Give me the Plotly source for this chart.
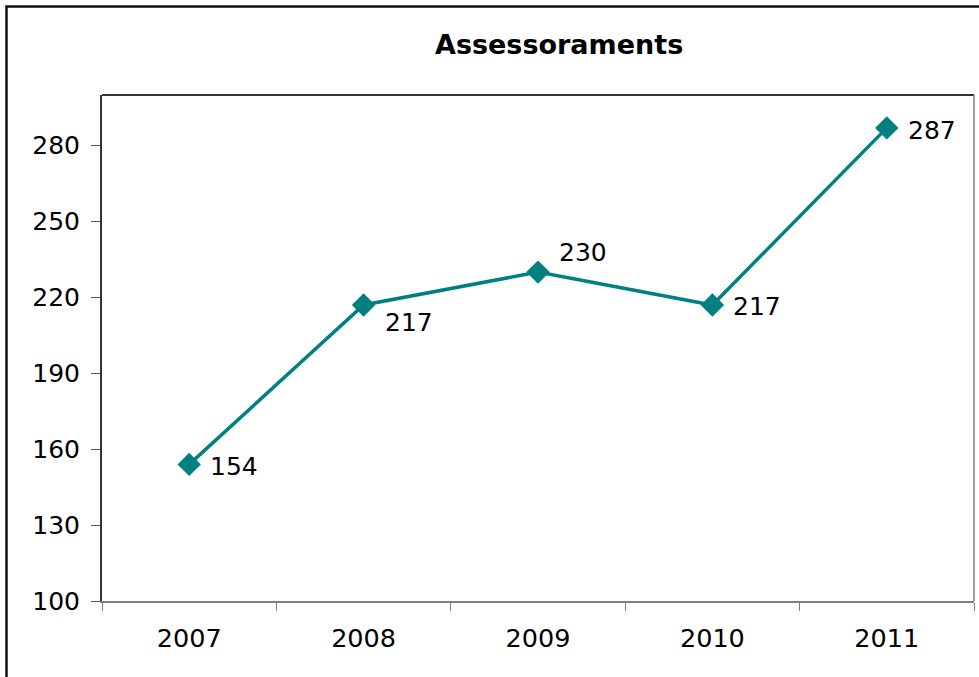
import plotly.graph_objects as go

years = ["2007", "2008", "2009", "2010", "2011"]
values = [154, 217, 230, 217, 287]
label_dy = [-2, -18, 20, -2, -3]

teal = "#008080"
font = "DejaVu Sans, Verdana, sans-serif"

fig = go.Figure()
fig.add_trace(go.Scatter(
    x=years, y=values, mode="lines+markers",
    line=dict(color=teal, width=3.5),
    marker=dict(symbol="diamond", size=18, color=teal),
    hoverinfo="skip",
))

for i, (v, dy) in enumerate(zip(values, label_dy)):
    fig.add_annotation(x=i, y=v, xref="x", yref="y", text=str(v), showarrow=False,
                       xanchor="left", yanchor="middle", xshift=19, yshift=dy,
                       font=dict(family=font, size=25, color="#000"))

fig.add_annotation(x=(559 - 102) / 872, y=1 + (95 - 45) / 506, xref="paper", yref="paper",
                   xanchor="center", yanchor="middle",
                   text="<b>Assessoraments</b>", showarrow=False,
                   font=dict(family=font, size=27, color="#000"))

fig.update_layout(
    width=979, height=677,
    margin=dict(l=102, r=5, t=95, b=76, autoexpand=False),
    paper_bgcolor="white", plot_bgcolor="white",
    showlegend=False,
    font=dict(family=font, size=25, color="#000"),
    xaxis=dict(type="category", showgrid=False, zeroline=False,
               showline=True, linecolor="#808080", linewidth=2,
               ticks="outside", tickson="boundaries", ticklen=8, tickcolor="#808080",
               tickfont=dict(size=25.5), ticklabelstandoff=13, range=[-0.5, 4.5]),
    yaxis=dict(range=[100, 300], dtick=30, tick0=100, showgrid=False, zeroline=False,
               showline=True, linecolor="#333", linewidth=2,
               ticks="outside", ticklen=9, tickcolor="#555",
               tickfont=dict(size=25), ticklabelstandoff=6),
    shapes=[
        dict(type="line", xref="paper", yref="paper", x0=0, x1=1, y0=1, y1=1,
             line=dict(color="#333", width=2)),
        dict(type="line", xref="paper", yref="paper", x0=1, x1=1, y0=0, y1=1,
             line=dict(color="#808080", width=1.5)),
        dict(type="rect", xref="paper", yref="paper",
             x0=-95.5 / 872, x1=1 + 30 / 872, y0=-120 / 506, y1=1 + 88.5 / 506,
             line=dict(color="#111", width=2.5), layer="below"),
    ],
)

fig.write_html("out.html", config={"displayModeBar": False},
               post_script="document.body.style.margin='0px';")
